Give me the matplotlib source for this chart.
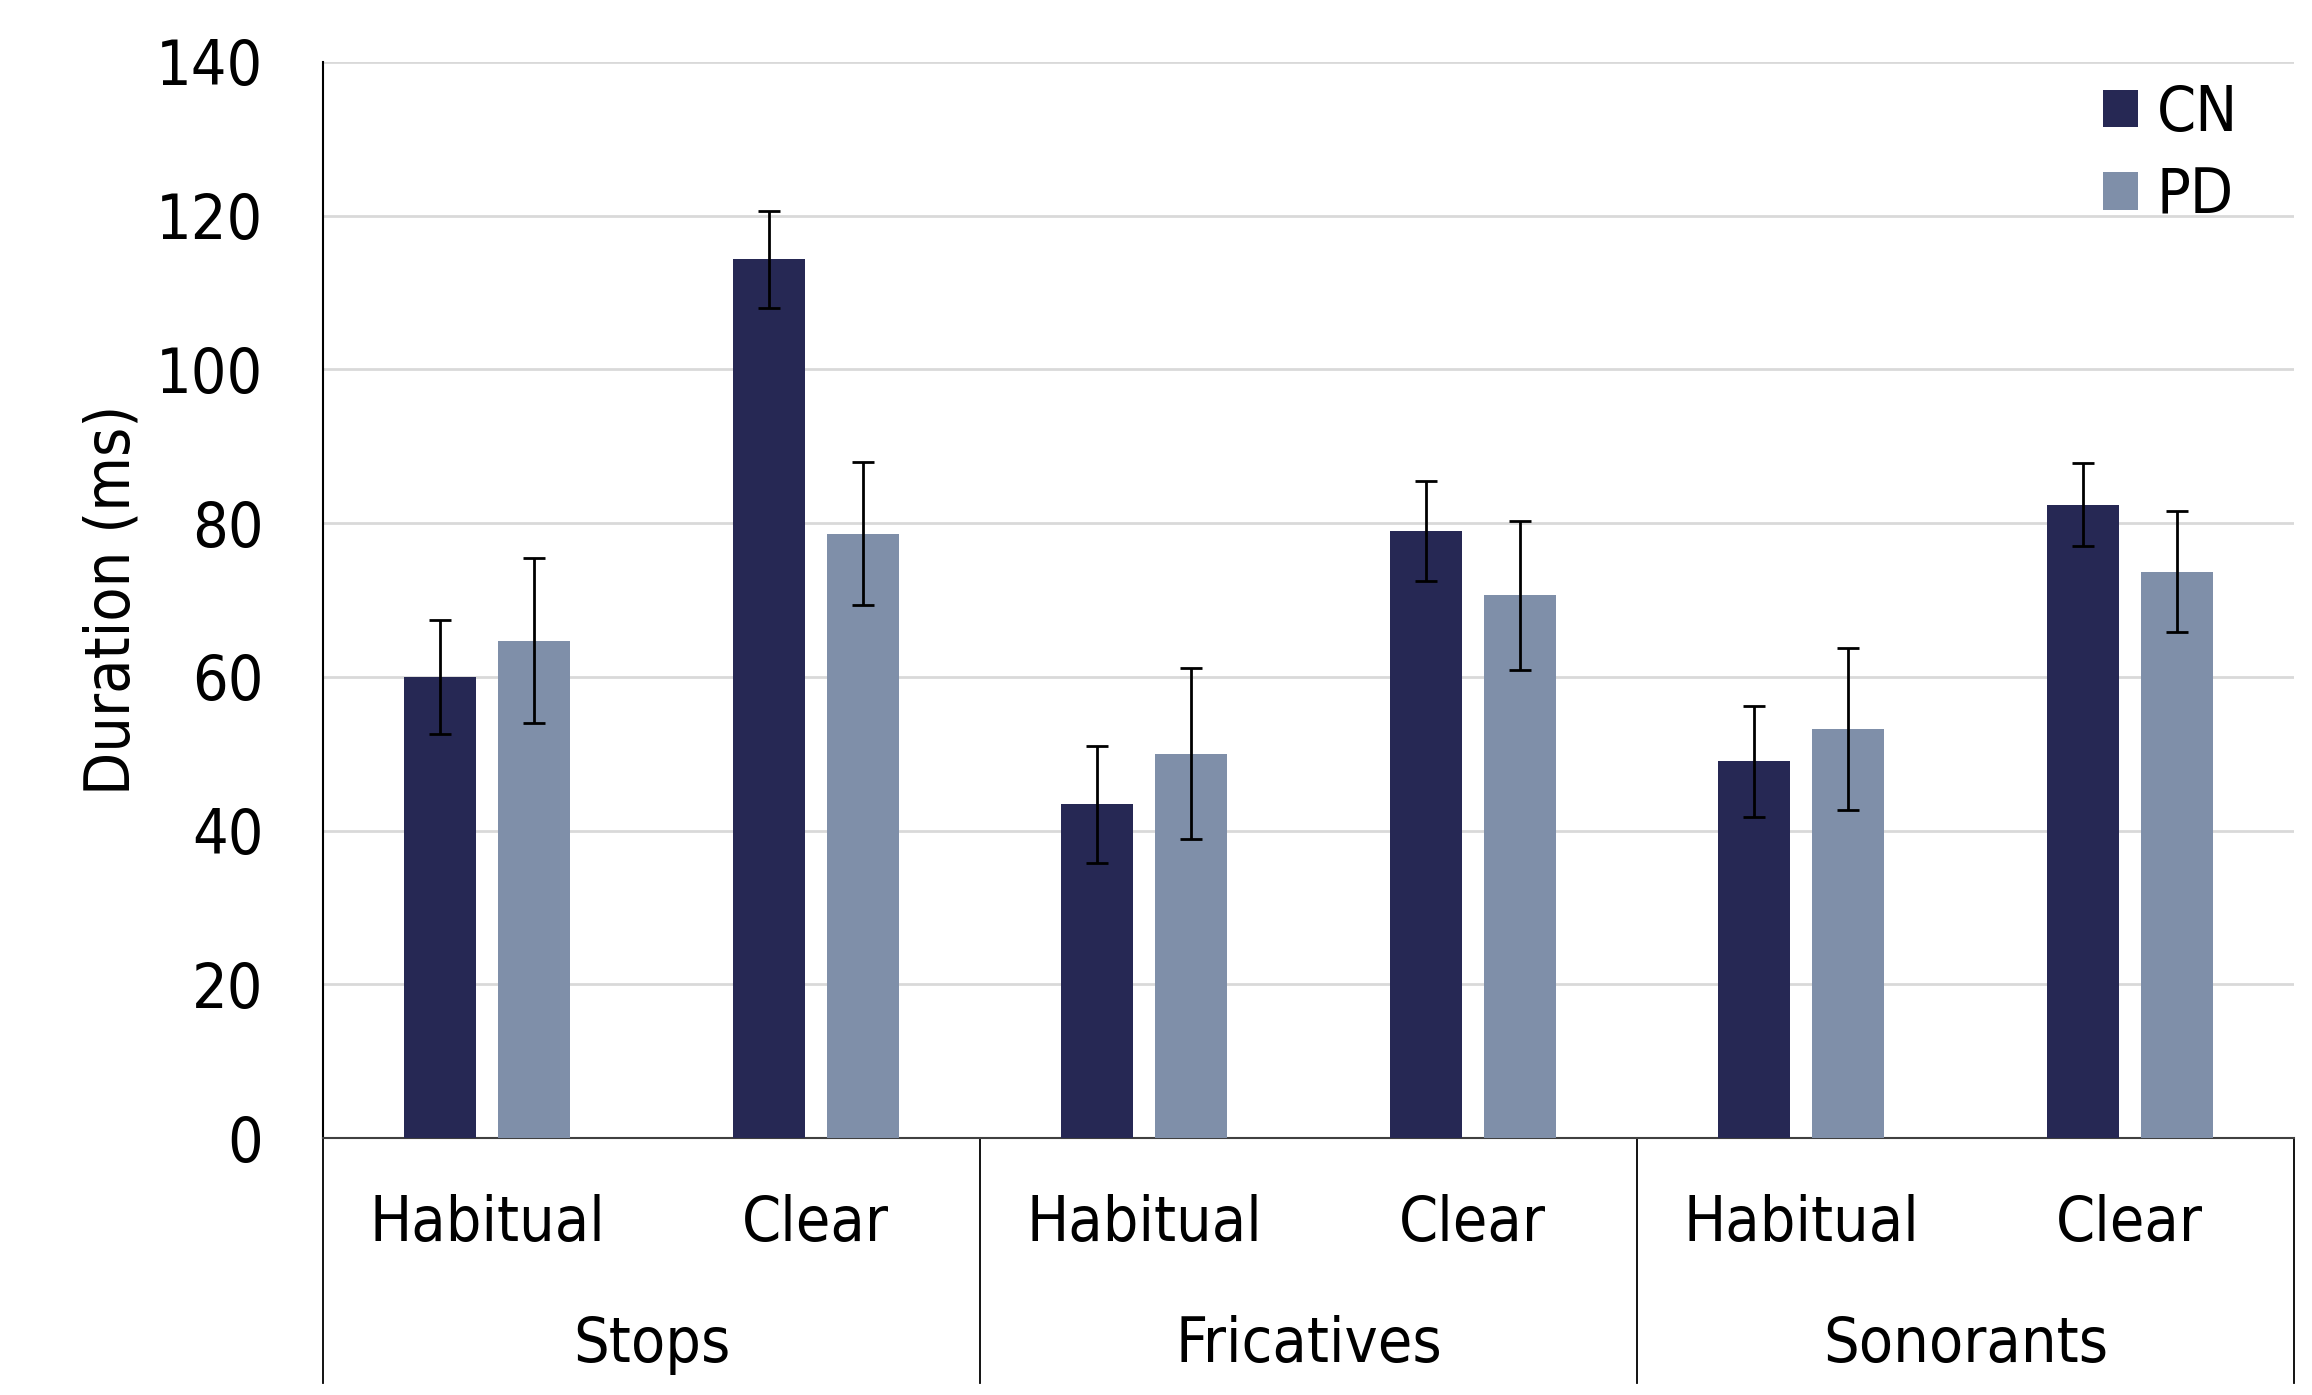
import matplotlib.pyplot as plt
import matplotlib.transforms as mtransforms
import numpy as np

plt.rcParams['font.family'] = 'DejaVu Sans'
plt.rcParams['font.stretch'] = 'condensed'

groups = ["Stops", "Fricatives", "Sonorants"]
conditions = ["Habitual", "Clear"]
series_names = ["CN", "PD"]

# mean duration (ms), order: Stops-Hab, Stops-Clear, Fric-Hab, Fric-Clear, Son-Hab, Son-Clear
cn_means = [60.0, 114.3, 43.4, 79.0, 49.0, 82.4]
pd_means = [64.7, 78.6, 50.0, 70.6, 53.2, 73.7]
cn_err = [7.4, 6.3, 7.6, 6.5, 7.2, 5.4]
pd_err = [10.7, 9.3, 11.1, 9.7, 10.5, 7.9]

cn_color = '#262854'
pd_color = '#7f8fa9'
fs = 45

fig = plt.figure(figsize=(23.12, 13.95), dpi=100)
ax = fig.add_axes([0.1397, 0.1842, 0.8525, 0.7714])

x = np.arange(len(cn_means))
width = 0.22
offset = 0.143
err_kw = dict(ecolor='black', elinewidth=2, capsize=8, capthick=2)
ax.bar(x - offset, cn_means, width, yerr=cn_err, color=cn_color, label=series_names[0],
       error_kw=err_kw, zorder=3)
ax.bar(x + offset, pd_means, width, yerr=pd_err, color=pd_color, label=series_names[1],
       error_kw=err_kw, zorder=3)

ax.set_xlim(-0.5, len(x) - 0.5)
ax.set_ylim(0, 140)
ax.set_yticks(np.arange(0, 141, 20))
ax.tick_params(axis='y', length=0, pad=43, labelsize=fs)
ax.tick_params(axis='x', length=0, labelbottom=False)
ax.yaxis.grid(True, color='#d9d9d9', linewidth=2, zorder=0)
ax.set_axisbelow(True)

for side in ['top', 'right']:
    ax.spines[side].set_visible(False)
ax.spines['left'].set_color('black')
ax.spines['left'].set_linewidth(1.5)
ax.spines['bottom'].set_color('#404040')
ax.spines['bottom'].set_linewidth(1.5)

ax.set_ylabel('Duration (ms)', fontsize=fs, labelpad=10)

# two-level category labels under the axis
trans = mtransforms.blended_transform_factory(ax.transData, ax.transAxes)
for i in range(len(x)):
    ax.text(x[i], -0.080, conditions[i % 2], transform=trans, ha='center', va='center',
            fontsize=fs)
for g, name in enumerate(groups):
    ax.text(2 * g + 0.5, -0.192, name, transform=trans, ha='center', va='center',
            fontsize=fs)
for b in [-0.5, 1.5, 3.5, 5.5]:
    ax.plot([b, b], [0, -0.228], transform=trans, color='black', linewidth=1.3,
            clip_on=False)

leg = ax.legend(loc='upper right', bbox_to_anchor=(1.0, 1.032), frameon=False, fontsize=fs,
                handlelength=0.55, handleheight=0.55, handletextpad=0.3, labelspacing=0.36)

fig.savefig('out.png', dpi=100)
